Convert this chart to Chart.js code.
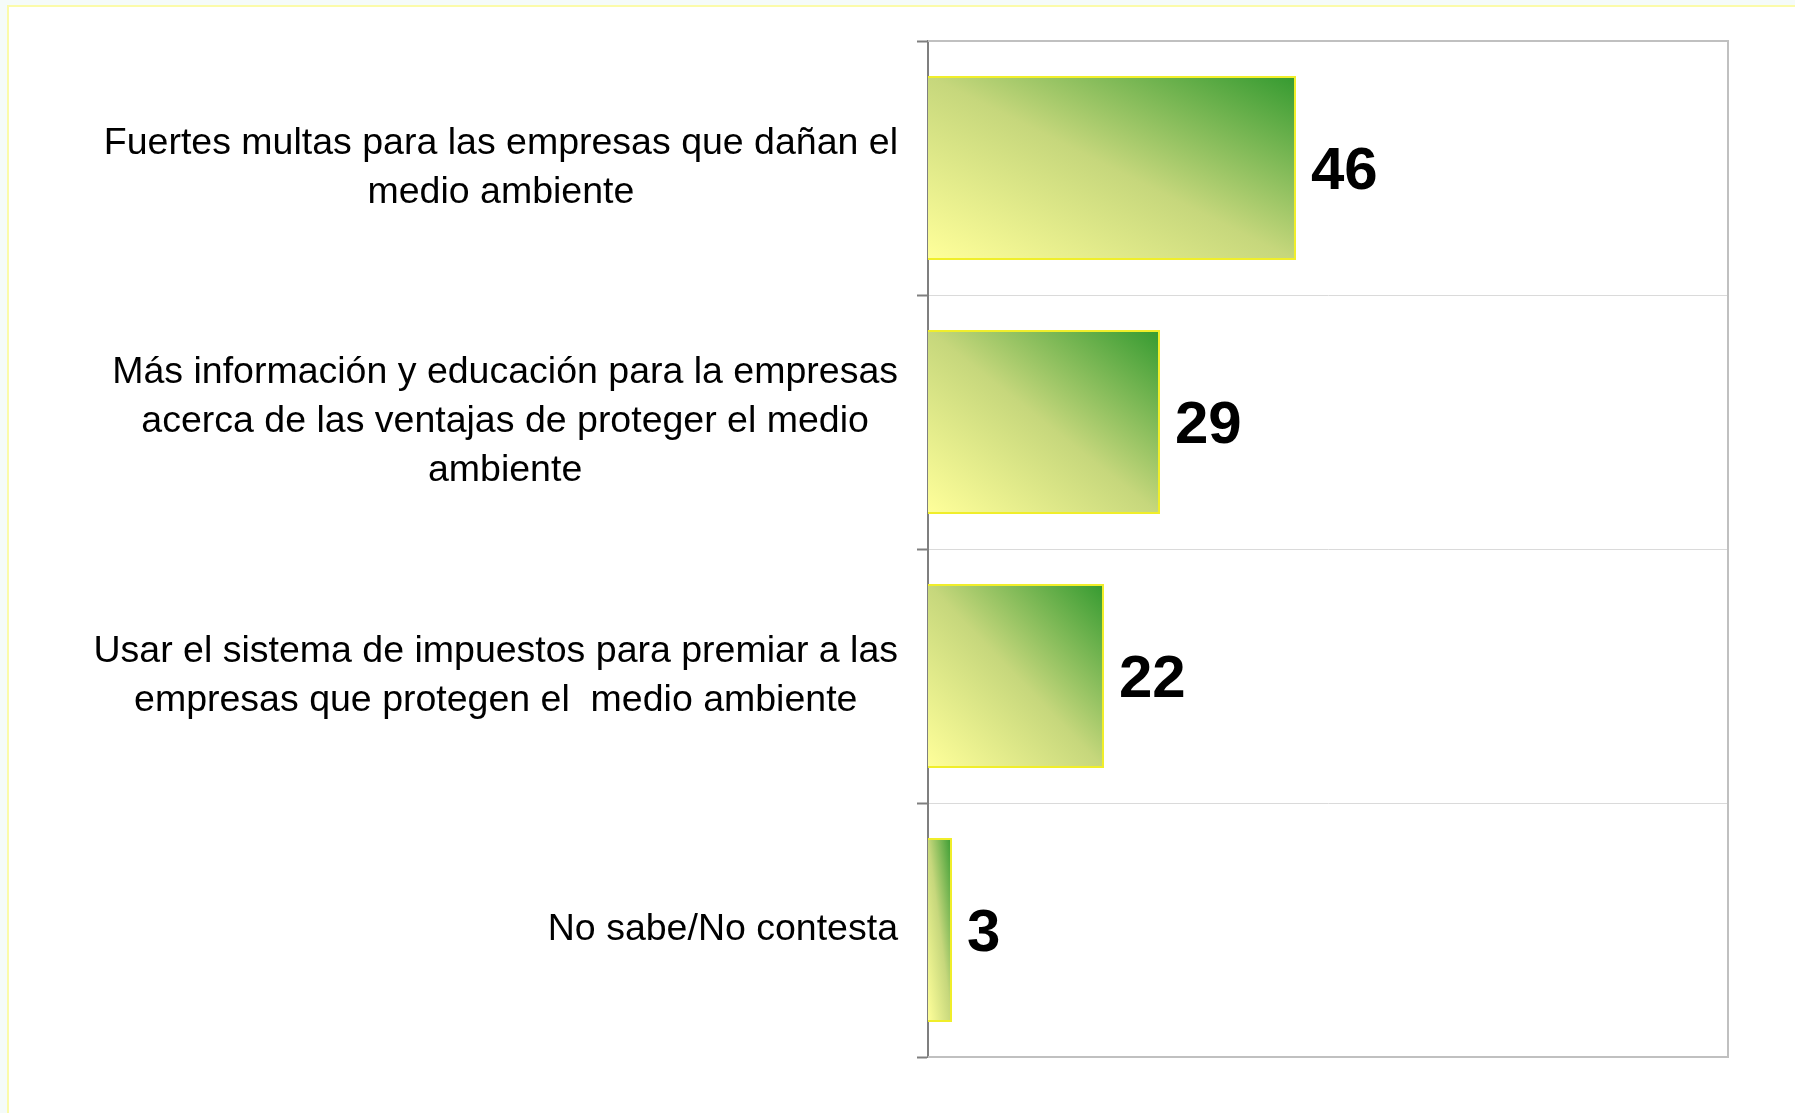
<!DOCTYPE html>
<html>
<head>
<meta charset="utf-8">
<script src="https://cdn.jsdelivr.net/npm/chart.js@4/dist/chart.umd.min.js"></script>
<style>
  html, body { margin: 0; padding: 0; background: #f5fbf9; overflow: hidden; }
  #frame { position: absolute; left: 7px; top: 5px; width: 1800px; height: 1120px; background: #ffffff;
           border-left: 2px solid #fbfbaa; border-top: 2px solid #fbfbaa; }
  #c { position: absolute; left: 0; top: 0; }
</style>
</head>
<body>
<div id="frame"></div>
<canvas id="c" width="1795" height="1113"></canvas>
<script>
const categories = [
  ['Fuertes multas para las empresas que dañan el', 'medio ambiente'],
  ['Más información y educación para la empresas', 'acerca de las ventajas de proteger el medio', 'ambiente'],
  ['Usar el sistema de impuestos para premiar a las', 'empresas que protegen el  medio ambiente'],
  ['No sabe/No contesta']
];
const values = [46, 29, 22, 3];
const axisMin = 0;
const axisMax = 100;

const FONT = '"Liberation Sans", Arial, sans-serif';
const BAR_PCT = 0.725;

function makeGradient(ctx, x0, x1, yTop, yBottom) {
  const w = Math.max(1, x1 - x0);
  const h = Math.max(1, yBottom - yTop);
  const k = 2 * w * h / (w * w + h * h);
  const g = ctx.createLinearGradient(x0, yBottom, x0 + h * k, yBottom - w * k);
  g.addColorStop(0, '#ffff9a');
  g.addColorStop(0.5, '#c6d77c');
  g.addColorStop(1, '#349a30');
  return g;
}

const gradientPlugin = {
  id: 'barGradient',
  beforeDatasetsDraw(chart) {
    const meta = chart.getDatasetMeta(0);
    meta.data.forEach((el) => {
      const p = el.getProps(['x', 'y', 'base', 'height'], true);
      if (![p.x, p.y, p.base, p.height].every(Number.isFinite)) return;
      const g = makeGradient(chart.ctx, Math.min(p.base, p.x), Math.max(p.base, p.x), p.y - p.height / 2, p.y + p.height / 2);
      el.options = Object.assign({}, el.options, { backgroundColor: g });
    });
  }
};

const framePlugin = {
  id: 'frameLines',
  beforeDatasetsDraw(chart) {
    const { ctx, chartArea: a } = chart;
    ctx.save();
    ctx.strokeStyle = '#c0c0c0';
    ctx.lineWidth = 2;
    ctx.beginPath();
    ctx.moveTo(a.left, a.top); ctx.lineTo(a.right, a.top);
    ctx.lineTo(a.right, a.bottom); ctx.lineTo(a.left, a.bottom);
    ctx.stroke();
    ctx.restore();
  }
};

const labelPlugin = {
  id: 'textLabels',
  afterDraw(chart) {
    const { ctx } = chart;
    const ys = chart.scales.y;
    ctx.save();
    const size = 37.5, lh = 49, right = 898;
    ctx.font = size + 'px ' + FONT;
    ctx.fillStyle = '#000000';
    ctx.textAlign = 'center';
    ctx.textBaseline = 'alphabetic';
    categories.forEach((lines, i) => {
      const cy = ys.getPixelForValue(i);
      const maxW = Math.max(...lines.map(l => ctx.measureText(l).width));
      const cx = right - maxW / 2;
      lines.forEach((l, k) => {
        const y = cy + (k - (lines.length - 1) / 2) * lh + size * 0.716 / 2 - 3;
        ctx.fillText(l, cx, y);
      });
    });
    const vs = 60;
    ctx.font = 'bold ' + vs + 'px ' + FONT;
    ctx.textAlign = 'left';
    const meta = chart.getDatasetMeta(0);
    meta.data.forEach((el, i) => {
      const p = el.getProps(['x', 'y'], true);
      ctx.fillText(String(values[i]), p.x + 15, p.y + vs * 0.716 / 2);
    });
    ctx.restore();
  }
};

new Chart(document.getElementById('c'), {
  type: 'bar',
  data: {
    labels: categories,
    datasets: [{
      data: values,
      backgroundColor: '#99cc66',
      borderColor: '#f0ee2a',
      borderWidth: 2,
      barPercentage: BAR_PCT,
      categoryPercentage: 1
    }]
  },
  options: {
    indexAxis: 'y',
    responsive: false,
    devicePixelRatio: 1,
    animation: false,
    layout: { padding: { left: 0, top: 41, right: 67, bottom: 56 } },
    plugins: { legend: { display: false }, tooltip: { enabled: false } },
    scales: {
      x: { display: false, min: axisMin, max: axisMax },
      y: {
        type: 'category',
        afterFit(scale) { scale.width = 928; },
        ticks: { display: false },
        grid: { offset: true, color: '#dadada', lineWidth: 1, tickLength: 11, tickColor: '#7f7f7f', tickWidth: 2 },
        border: { display: true, color: '#7f7f7f', width: 2 }
      }
    }
  },
  plugins: [gradientPlugin, framePlugin, labelPlugin]
});
</script>
</body>
</html>
